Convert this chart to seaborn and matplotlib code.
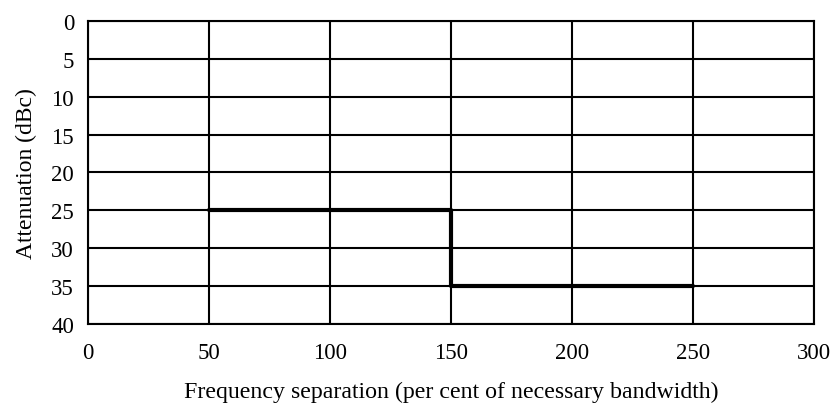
import matplotlib
matplotlib.use("Agg")
import matplotlib.pyplot as plt
import seaborn as sns

# step mask: attenuation vs frequency separation
freq_sep = [50, 150, 150, 250]
attenuation = [25, 25, 35, 35]

x_ticks = [0, 50, 100, 150, 200, 250, 300]
y_ticks = [0, 5, 10, 15, 20, 25, 30, 35, 40]

sns.set_theme(style="white")
plt.rcParams['font.family'] = ['Liberation Serif', 'DejaVu Serif']
plt.rcParams['text.color'] = 'black'
plt.rcParams['axes.labelcolor'] = 'black'

fig = plt.figure(figsize=(8.34, 4.06), dpi=100)
ax = fig.add_axes([0.1055, 0.1995, 0.8705, 0.7465])

sns.lineplot(x=freq_sep, y=attenuation, sort=False, estimator=None,
             color='black', linewidth=3, ax=ax, zorder=3)

ax.set_xlim(0, 300)
ax.set_ylim(40, 0)
ax.set_xticks(x_ticks)
ax.set_yticks(y_ticks)
ax.grid(True, color='black', linewidth=1.5)
ax.set_axisbelow(True)
for s in ax.spines.values():
    s.set_color('black')
    s.set_linewidth(1.5)

ax.tick_params(axis='both', length=0, labelsize=16.5, colors='black')
ax.tick_params(axis='x', pad=13)
ax.tick_params(axis='y', pad=10)
ax.set_xlabel('Frequency separation (per cent of necessary bandwidth)', fontsize=17.2, labelpad=13)
ax.set_ylabel('Attenuation (dBc)', fontsize=17, labelpad=10)

plt.savefig('out.png', dpi=100)
plt.close()
